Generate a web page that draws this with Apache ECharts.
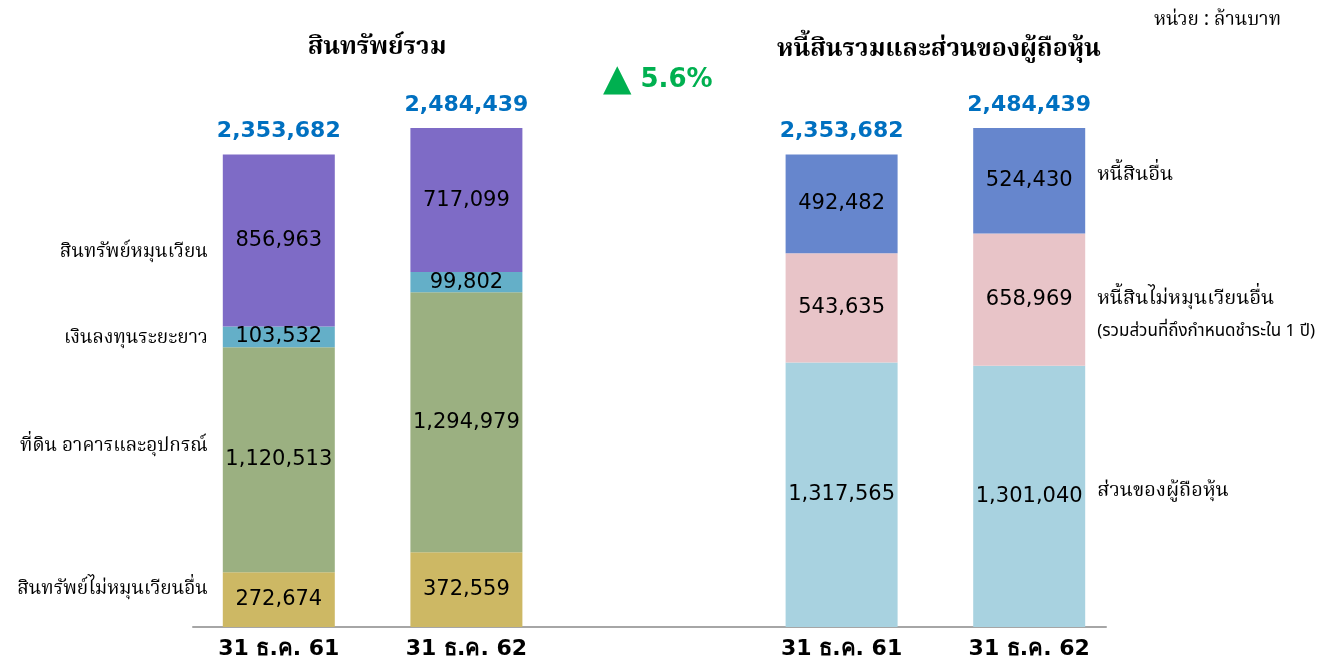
<!DOCTYPE html>
<html>
<head>
<meta charset="utf-8">
<script src="https://cdn.jsdelivr.net/npm/echarts@6/dist/echarts.min.js"></script>
<style>
html,body{margin:0;padding:0;background:#fff;}
#chart{width:1322px;height:661px;}
</style>
</head>
<body>
<div id="chart"></div>
<script>
// ---- data ----
const categoryKeys = ['a61', 'a62', 'gap', 'l61', 'l62'];
const tickLabels = ['31 ธ.ค. 61', '31 ธ.ค. 62', '', '31 ธ.ค. 61', '31 ธ.ค. 62'];

const assetNames = ['สินทรัพย์ไม่หมุนเวียนอื่น', 'ที่ดิน อาคารและอุปกรณ์', 'เงินลงทุนระยะยาว', 'สินทรัพย์หมุนเวียน'];
const nonCurrentOther = [272674, 372559];
const ppe = [1120513, 1294979];
const longInvest = [103532, 99802];
const currentAssets = [856963, 717099];

const liabNames = ['ส่วนของผู้ถือหุ้น', 'หนี้สินไม่หมุนเวียนอื่น', 'หนี้สินอื่น'];
const liabNote = '(รวมส่วนที่ถึงกำหนดชำระใน 1 ปี)';
const equity = [1317565, 1301040];
const nonCurrentLiab = [543635, 658969];
const otherLiab = [492482, 524430];

const assetTotals = [2353682, 2484439];
const liabTotals = [2353682, 2484439];

const titleAssets = 'สินทรัพย์รวม';
const titleLiab = 'หนี้สินรวมและส่วนของผู้ถือหุ้น';
const unitText = 'หน่วย : ล้านบาท';
const growthText = '5.6%';

// ---- build ----
const THAI = "'Noto Serif Thai','Noto Sans Thai','Tlwg Typo','Loma','Garuda','Liberation Serif',serif";
const THAI_SANS = "'Noto Sans Thai','Loma','Garuda','Noto Sans',sans-serif";
const NUM = "'DejaVu Sans', Tahoma, sans-serif";
const fmt = v => v.toLocaleString('en-US');

function leftData(arr) { return [arr[0], arr[1], '-', '-', '-']; }
function rightData(arr) { return ['-', '-', '-', arr[0], arr[1]]; }

const BW = 112;
const valueLabel = {
  show: true, position: 'inside', color: '#000', fontFamily: NUM, fontSize: 21,
  formatter: p => fmt(p.value)
};

function mainSeries(name, data, color) {
  return {
    name: name, type: 'bar', stack: 'v', barWidth: BW, barGap: '-100%',
    data: data, itemStyle: { color: color }, label: valueLabel,
    emphasis: { disabled: true }
  };
}

const series = [
  mainSeries(assetNames[0], leftData(nonCurrentOther), '#CDB864'),
  mainSeries(assetNames[1], leftData(ppe), '#9BB081'),
  mainSeries(assetNames[2], leftData(longInvest), '#64AFC8'),
  mainSeries(assetNames[3], leftData(currentAssets), '#7E6BC6'),
  mainSeries(liabNames[0], rightData(equity), '#A8D2E0'),
  mainSeries(liabNames[1], rightData(nonCurrentLiab), '#E8C4C8'),
  mainSeries(liabNames[2], rightData(otherLiab), '#6686CD'),
  {
    name: 'total', type: 'bar', stack: 'v', barWidth: BW, barGap: '-100%',
    data: [0, 0, '-', 0, 0], itemStyle: { color: 'transparent' },
    label: {
      show: true, position: 'top', distance: 12, color: '#0070C0',
      fontFamily: NUM, fontWeight: 'bold', fontSize: 22,
      formatter: p => fmt(p.dataIndex < 2 ? assetTotals[p.dataIndex] : liabTotals[p.dataIndex - 3])
    },
    emphasis: { disabled: true }
  }
];

// ghost series carrying the row names
const leftOffsets = [[0, -9], [0, -12], [0, 3], [0, 13]];
const leftVals = [nonCurrentOther, ppe, longInvest, currentAssets];
leftVals.forEach((arr, i) => {
  series.push({
    name: 'n' + i, type: 'bar', stack: 'n', barWidth: BW, barGap: '-100%',
    data: [arr[0], '-', '-', '-', '-'],
    itemStyle: { color: 'transparent' }, silent: true,
    label: {
      show: true, position: 'left', distance: 15, offset: leftOffsets[i],
      color: '#000', fontFamily: THAI, fontSize: 19,
      formatter: () => assetNames[i]
    }
  });
});
const rightVals = [equity, nonCurrentLiab, otherLiab];
const rightOffsets = [[0, -4], [0, 17], [0, -4]];
rightVals.forEach((arr, i) => {
  series.push({
    name: 'm' + i, type: 'bar', stack: 'n', barWidth: BW, barGap: '-100%',
    data: ['-', '-', '-', '-', arr[1]],
    itemStyle: { color: 'transparent' }, silent: true,
    label: {
      show: true, position: 'right', distance: 12, offset: rightOffsets[i],
      color: '#000', fontFamily: THAI, fontSize: 20, lineHeight: 31,
      formatter: () => i === 1 ? '{a|' + liabNames[i] + '}\n{b|' + liabNote + '}' : liabNames[i],
      rich: {
        a: { fontFamily: THAI, fontSize: 20, color: '#000', lineHeight: 31 },
        b: { fontFamily: THAI_SANS, fontSize: 17, color: '#000', lineHeight: 31 }
      }
    }
  });
});

const chart = echarts.init(document.getElementById('chart'));
chart.setOption({
  animation: false,
  backgroundColor: '#fff',
  title: [
    { text: titleAssets, left: 372, top: 32, textAlign: 'center',
      textStyle: { fontFamily: THAI, fontWeight: 'bold', fontSize: 25, color: '#000' } },
    { text: titleLiab, left: 934, top: 34, textAlign: 'center',
      textStyle: { fontFamily: THAI, fontWeight: 'bold', fontSize: 25, color: '#000' } },
    { text: unitText, right: 36, top: 7,
      textStyle: { fontFamily: THAI, fontWeight: 'normal', fontSize: 19, color: '#000' } },
    { text: '{t|▲} {p|' + growthText + '}', left: 598, top: 57,
      textStyle: { rich: {
        t: { fontSize: 37, color: '#00B050', fontFamily: NUM },
        p: { fontSize: 26, fontWeight: 'bold', color: '#00B050', fontFamily: NUM, padding: [0, 0, 0, 4] }
      } } }
  ],
  grid: [
    { left: 185, right: 199, top: 125, bottom: 34, containLabel: false },
    { left: 193, right: 216, top: 125, bottom: 34, containLabel: false }
  ],
  xAxis: [
    {
      type: 'category', data: categoryKeys, gridIndex: 0,
      axisLine: { show: false },
      axisTick: { show: false },
      axisLabel: {
        interval: 0, margin: 11, color: '#000', fontFamily: NUM, fontWeight: 'bold', fontSize: 22,
        formatter: (v, i) => tickLabels[i]
      }
    },
    {
      type: 'category', data: [''], gridIndex: 1,
      axisLine: { show: true, lineStyle: { color: '#A6A6A6', width: 2 } },
      axisTick: { show: false }, axisLabel: { show: false }
    }
  ],
  yAxis: [
    { type: 'value', min: 0, max: 2500000, show: false, splitLine: { show: false }, gridIndex: 0 },
    { type: 'value', min: 0, max: 1, show: false, splitLine: { show: false }, gridIndex: 1 }
  ],
  series: series
});
</script>
</body>
</html>
